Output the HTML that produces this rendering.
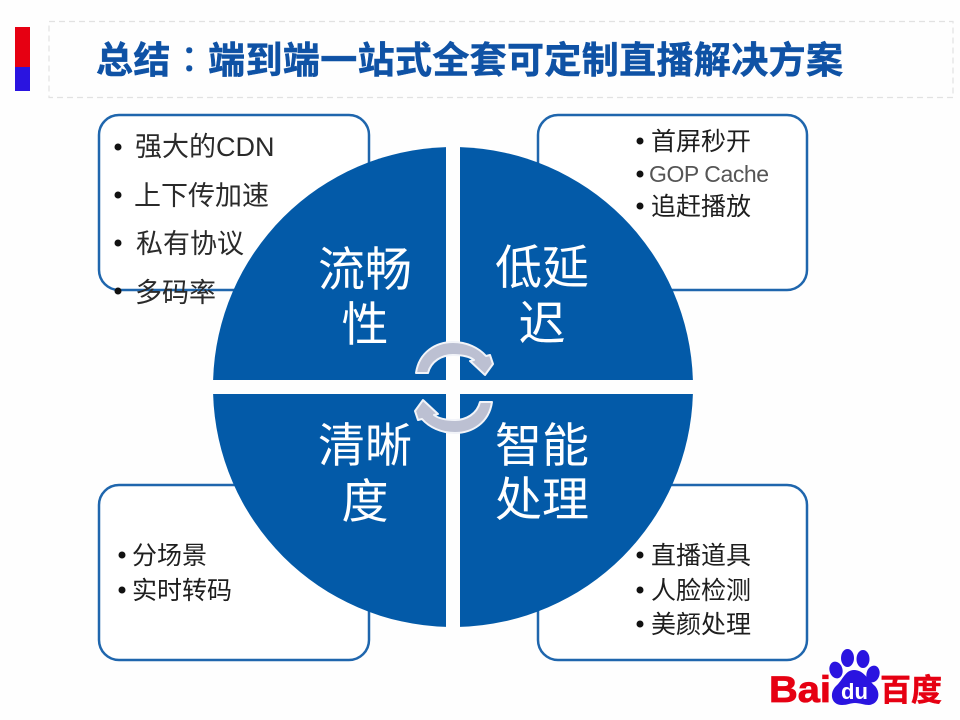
<!DOCTYPE html>
<html><head><meta charset="utf-8"><style>
html,body{margin:0;padding:0;background:#fff;width:960px;height:720px;overflow:hidden}
svg{display:block}
text{font-family:"Liberation Sans","Noto Sans CJK SC",sans-serif}
.t{font-size:27px;fill:#2a2a2a}
.s{font-size:25px;fill:#1e1e1e}
.c{font-size:47px;fill:#fff;text-anchor:middle}
</style></head><body>
<svg width="960" height="720" viewBox="0 0 960 720" xmlns="http://www.w3.org/2000/svg">
<rect width="960" height="720" fill="#fefefe"/>
<rect x="15" y="27" width="15" height="40" fill="#e60012"/>
<rect x="15" y="67" width="15" height="24" fill="#2a14e0"/>
<rect x="49" y="21.500" width="904" height="76" fill="none" stroke="#e2e2e2" stroke-width="1.200" stroke-dasharray="6 4"/>
<text x="96" y="73" font-size="37" font-weight="700" fill="#0f52a5" stroke="#0f52a5" stroke-width=".5" textLength="747" lengthAdjust="spacing">总结<tspan style="font-family:'Noto Sans CJK TC',sans-serif" font-weight="400">：</tspan>端到端一站式全套可定制直播解决方案</text>

<g fill="#fff" stroke="#1f66ad" stroke-width="2.500">
<rect x="99" y="115" width="270" height="175" rx="20"/>
<rect x="538" y="115" width="269" height="175" rx="20"/>
<rect x="99" y="485" width="270" height="175" rx="20"/>
<rect x="538" y="485" width="269" height="175" rx="20"/>
</g>

<g fill="#035aa8">
<path d="M446 147.100A240 240 0 0 0 213.100 380H446Z"/>
<path d="M460 147.100A240 240 0 0 1 692.900 380H460Z"/>
<path d="M446 626.900A240 240 0 0 1 213.100 394H446Z"/>
<path d="M460 626.900A240 240 0 0 0 692.900 394H460Z"/>
</g>

<text class="c" x="365" y="286">流畅</text>
<text class="c" x="365" y="341">性</text>
<text class="c" x="542" y="284">低延</text>
<text class="c" x="542" y="340">迟</text>
<text class="c" x="365" y="462">清晰</text>
<text class="c" x="365" y="518">度</text>
<text class="c" x="542" y="462">智能</text>
<text class="c" x="542" y="516">处理</text>

<g fill="#bcc0d2" stroke="#f2f4f9" stroke-width="2" stroke-linejoin="round">
<path d="M416 373C419 352 436 342 453 342C467 342 479 348 486 356L490 355L493 364L485 375L470 361L474 360C469 356 462 355 453 355C442 355 431 361 428 373Z"/>
<path d="M416 373C419 352 436 342 453 342C467 342 479 348 486 356L490 355L493 364L485 375L470 361L474 360C469 356 462 355 453 355C442 355 431 361 428 373Z" transform="rotate(180 454 387.500)"/>
</g>

<g>
<circle cx="118" cy="147" r="3.500" fill="#111"/>
<text class="t" x="135" y="156">强大的CDN</text>
<circle cx="118" cy="195" r="3.500" fill="#111"/>
<text class="t" x="134" y="205">上下传加速</text>
<circle cx="118" cy="243" r="3.500" fill="#111"/>
<text class="t" x="136" y="253">私有协议</text>
<circle cx="118" cy="291" r="3.500" fill="#111"/>
<text class="t" x="135" y="302">多码率</text>
</g>

<g>
<circle cx="640" cy="141" r="3.500" fill="#111"/>
<text class="s" x="651" y="150">首屏秒开</text>
<circle cx="640" cy="174" r="3.500" fill="#111"/>
<text x="649" y="182" font-size="23" fill="#555" textLength="120">GOP Cache</text>
<circle cx="640" cy="206" r="3.500" fill="#111"/>
<text class="s" x="651" y="215">追赶播放</text>

<circle cx="122" cy="555" r="3.500" fill="#111"/>
<text class="s" x="132" y="564">分场景</text>
<circle cx="122" cy="590" r="3.500" fill="#111"/>
<text class="s" x="132" y="599">实时转码</text>

<circle cx="640" cy="555" r="3.500" fill="#111"/>
<text class="s" x="651" y="564">直播道具</text>
<circle cx="640" cy="590" r="3.500" fill="#111"/>
<text class="s" x="651" y="599">人脸检测</text>
<circle cx="640" cy="624" r="3.500" fill="#111"/>
<text class="s" x="651" y="633">美颜处理</text>
</g>

<g>
<text x="769" y="702" font-size="37" font-weight="700" fill="#e60012" stroke="#e60012" stroke-width=".8" textLength="62" lengthAdjust="spacingAndGlyphs">Bai</text>
<text x="880" y="701" font-size="31" font-weight="700" fill="#e60012" stroke="#e60012" stroke-width=".5" textLength="62">百度</text>
<g fill="#2a14e0">
<ellipse cx="836" cy="670" rx="6.500" ry="8.500" transform="rotate(-15 836 670)"/>
<ellipse cx="847.500" cy="658" rx="6.500" ry="9"/>
<ellipse cx="863" cy="659" rx="6.500" ry="9"/>
<ellipse cx="873" cy="674" rx="6.500" ry="8.500" transform="rotate(15 873 674)"/>
<path d="M854 670C845 670 843 680 836 686C829 693 831 705 842 705C848 705 850 703 855 703C860 703 864 705 869 705C879 704 881 693 875 686C868 680 864 670 854 670Z"/>
</g>
<text x="841" y="699" font-size="22" font-weight="700" fill="#fff" textLength="27" lengthAdjust="spacingAndGlyphs">du</text>
</g>
</svg>
</body></html>
